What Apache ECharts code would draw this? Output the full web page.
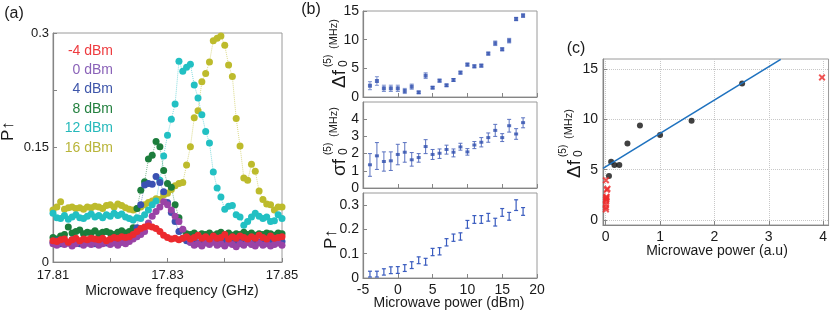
<!DOCTYPE html>
<html><head><meta charset="utf-8">
<script src="https://cdn.jsdelivr.net/npm/echarts@6/dist/echarts.min.js"></script>
<style>html,body{margin:0;padding:0;background:#fff}#c{width:830px;height:312px}</style>
</head><body><div id="c"></div>
<script>
// ---------- Panel (a): P-up vs microwave frequency ----------
const FREQ_START = 17.81, FREQ_END = 17.85, N_FREQ = 61;
const freq = Array.from({length: N_FREQ}, (_, i) => +(FREQ_START + i * (FREQ_END - FREQ_START) / (N_FREQ - 1)).toFixed(5));
const powerLabels = ['-4 dBm', '0 dBm', '4 dBm', '8 dBm', '12 dBm', '16 dBm'];
const pRed = [0.028,0.027,0.029,0.030,0.026,0.029,0.031,0.028,0.030,0.029,
  0.031,0.030,0.029,0.031,0.028,0.030,0.032,0.031,0.033,0.032,
  0.033,0.036,0.040,0.044,0.046,0.047,0.046,0.044,0.040,0.035,
  0.032,0.030,0.031,0.029,0.031,0.033,0.030,0.032,0.035,0.031,
  0.033,0.030,0.034,0.031,0.032,0.036,0.030,0.033,0.031,0.034,
  0.032,0.030,0.033,0.031,0.035,0.032,0.030,0.034,0.031,0.032,0.033];
const pPurple = [0.024,0.022,0.026,0.023,0.025,0.021,0.024,0.027,0.022,0.025,
  0.023,0.026,0.022,0.024,0.027,0.023,0.025,0.022,0.026,0.024,
  0.027,0.030,0.033,0.036,0.040,0.051,0.060,0.066,0.072,0.079,
  0.075,0.068,0.060,0.053,0.043,0.032,0.026,0.022,0.024,0.021,
  0.025,0.023,0.026,0.022,0.024,0.021,0.025,0.023,0.020,0.024,
  0.022,0.026,0.023,0.021,0.025,0.022,0.024,0.021,0.023,0.025,0.022];
const pBlue = [0.026,0.028,0.024,0.027,0.025,0.029,0.026,0.024,0.028,0.025,
  0.027,0.024,0.028,0.026,0.025,0.029,0.027,0.024,0.026,0.028,
  0.030,0.034,0.045,0.075,0.101,0.103,0.102,0.112,0.104,0.092,
  0.078,0.065,0.053,0.040,0.031,0.028,0.026,0.029,0.025,0.027,
  0.030,0.026,0.028,0.025,0.027,0.029,0.026,0.028,0.025,0.027,
  0.030,0.026,0.024,0.028,0.026,0.025,0.029,0.027,0.024,0.026,0.027];
const pGreen = [0.032,0.030,0.034,0.036,0.046,0.038,0.040,0.042,0.037,0.039,
  0.038,0.041,0.037,0.039,0.040,0.038,0.036,0.039,0.041,0.038,
  0.040,0.045,0.070,0.094,0.105,0.135,0.140,0.158,0.151,0.120,
  0.103,0.098,0.075,0.058,0.042,0.037,0.036,0.038,0.035,0.037,
  0.036,0.038,0.035,0.037,0.039,0.036,0.038,0.035,0.037,0.036,
  0.039,0.036,0.038,0.035,0.037,0.036,0.038,0.037,0.035,0.038,0.037];
const pCyan = [0.064,0.058,0.057,0.061,0.056,0.059,0.062,0.058,0.057,0.060,
  0.063,0.059,0.061,0.058,0.062,0.060,0.064,0.061,0.063,0.059,
  0.057,0.055,0.058,0.057,0.062,0.068,0.075,0.080,0.107,0.139,
  0.166,0.187,0.207,0.263,0.250,0.255,0.259,0.232,0.215,0.193,
  0.171,0.156,0.118,0.097,0.085,0.069,0.073,0.074,0.062,0.059,
  0.048,0.053,0.059,0.064,0.060,0.057,0.059,0.053,0.054,0.062,0.057];
const pYellow = [0.068,0.072,0.079,0.069,0.071,0.072,0.070,0.071,0.069,0.072,
  0.071,0.073,0.072,0.070,0.074,0.075,0.072,0.076,0.074,0.071,
  0.069,0.068,0.070,0.072,0.075,0.078,0.080,0.083,0.082,0.088,
  0.090,0.095,0.100,0.103,0.104,0.127,0.151,0.189,0.198,0.236,
  0.247,0.262,0.290,0.293,0.296,0.284,0.258,0.243,0.188,0.152,
  0.110,0.107,0.128,0.119,0.093,0.082,0.076,0.075,0.068,0.072,0.072];

// ---------- Panel (b): vs microwave power (dBm) ----------
const dbm = [-4,-3,-2,-1,0,1,2,3,4,5,6,7,8,9,10,11,12,13,14,15,16,17,18];
const dfShift = [1.97,2.79,1.51,1.51,1.51,1.05,1.80,0.81,3.72,1.63,2.85,2.04,2.97,4.25,5.65,5.35,5.47,7.57,9.37,8.32,9.83,13.6,14.2];
const dfShiftErr = [0.7,0.75,0.55,0.55,0.55,0.45,0.45,0.2,0.5,0.2,0.25,0.2,0.25,0.25,0.25,0.25,0.25,0.25,0.4,0.25,0.4,0.3,0.3];
const sigma = [1.35,1.87,1.54,1.58,1.95,2.08,1.64,1.77,2.41,1.95,2.02,2.24,2.08,2.39,2.10,2.50,2.66,2.93,3.35,2.93,3.62,3.14,3.80];
const sigmaLo = [0.68,1.08,0.98,1.02,1.35,1.50,1.27,1.50,2.00,1.66,1.72,1.97,1.81,2.20,1.91,2.29,2.39,2.66,3.00,2.70,3.25,2.83,3.50];
const sigmaHi = [2.00,2.64,2.10,2.10,2.54,2.64,2.06,2.00,2.81,2.24,2.27,2.49,2.27,2.60,2.29,2.70,2.93,3.20,3.70,3.16,3.99,3.45,4.08];
const pUp = [0.016,0.016,0.025,0.032,0.033,0.041,0.053,0.073,0.067,0.107,0.110,0.147,0.166,0.171,0.221,0.241,0.241,0.250,0.230,0.270,0.254,0.300,0.274];
const pUpErr = [0.012,0.012,0.013,0.014,0.014,0.014,0.014,0.014,0.014,0.015,0.015,0.015,0.015,0.015,0.016,0.016,0.016,0.016,0.016,0.016,0.016,0.022,0.016];

// ---------- Panel (c): shift vs microwave power (a.u.) ----------
const powerAU = [0.06,0.10,0.16,0.25,0.40,0.63,1.00,1.58,2.51];
const dfAU = [4.37,5.79,5.46,5.46,7.60,9.40,8.44,9.86,13.57];
const excludedAU = [0.003,0.005,0.004,0.008,0.006,0.010,0.013,0.016,0.020,0.032,0.004,3.98];
const excludedDf = [1.05,1.25,1.55,1.85,2.05,2.25,2.10,2.30,3.00,3.10,3.95,14.17];
const fitAU = [-0.05, 3.22];
const fitDf = [5.13, 15.96];

const FONT = '"Liberation Sans", Arial, sans-serif';
const AX = '#858585', TXT = '#1a1a1a';
const colors = ['#ec2a2e', '#9a43a6', '#3a51b2', '#1c7d3c', '#22c0c3', '#bdbb2c'];
const legendColors = ['#ee3b3f', '#8a62b8', '#3e56aa', '#23803f', '#26b9bb', '#b9b53a'];
const seriesA = [pRed, pPurple, pBlue, pGreen, pCyan, pYellow];

function baseAxis(extra) {
  return Object.assign({
    type: 'value',
    axisLine: {show: true, onZero: false, lineStyle: {color: AX, width: 1.2}},
    axisTick: {show: true, inside: true, length: 4, lineStyle: {color: AX}},
    axisLabel: {color: TXT, fontSize: 14, fontFamily: FONT},
    splitLine: {show: false}
  }, extra);
}

function errRender(capHalf, color, width) {
  return function (params, api) {
    const x = api.value(0), lo = api.value(1), hi = api.value(2);
    const a = api.coord([x, lo]), b = api.coord([x, hi]);
    const st = {stroke: color, lineWidth: width};
    return {type: 'group', children: [
      {type: 'line', shape: {x1: a[0], y1: a[1], x2: b[0], y2: b[1]}, style: st},
      {type: 'line', shape: {x1: a[0] - capHalf, y1: a[1], x2: a[0] + capHalf, y2: a[1]}, style: st},
      {type: 'line', shape: {x1: b[0] - capHalf, y1: b[1], x2: b[0] + capHalf, y2: b[1]}, style: st}
    ]};
  };
}

const series = [];
for (let k = seriesA.length - 1; k >= 0; k--) {
  series.push({
    type: 'line', xAxisIndex: 0, yAxisIndex: 0, name: powerLabels[k],
    data: freq.map((f, i) => [f, seriesA[k][i]]),
    symbol: 'circle', symbolSize: 7, showSymbol: true,
    itemStyle: {color: colors[k], borderWidth: 0},
    lineStyle: {color: colors[k], width: 1, type: 'dotted', opacity: 0.55},
    clip: false, silent: true
  });
}
// (b) top
series.push({type: 'custom', xAxisIndex: 1, yAxisIndex: 1, renderItem: errRender(2, '#7d92cf', 1),
  encode: {x: 0, y: [1, 2]}, data: dbm.map((d, i) => [d, dfShift[i] - dfShiftErr[i], dfShift[i] + dfShiftErr[i]])});
series.push({type: 'scatter', xAxisIndex: 1, yAxisIndex: 1, symbol: 'rect', symbolSize: 4,
  itemStyle: {color: '#2f4fae'}, data: dbm.map((d, i) => [d, dfShift[i]])});
// (b) middle
series.push({type: 'custom', xAxisIndex: 2, yAxisIndex: 2, renderItem: errRender(2, '#5a72c0', 1),
  encode: {x: 0, y: [1, 2]}, data: dbm.map((d, i) => [d, sigmaLo[i], sigmaHi[i]])});
series.push({type: 'scatter', xAxisIndex: 2, yAxisIndex: 2, symbol: 'rect', symbolSize: [4, 3],
  itemStyle: {color: '#2f4fae'}, data: dbm.map((d, i) => [d, sigma[i]])});
// (b) bottom
series.push({type: 'custom', xAxisIndex: 3, yAxisIndex: 3, renderItem: errRender(2, '#3a5cbf', 1.2),
  encode: {x: 0, y: [1, 2]}, data: dbm.map((d, i) => [d, pUp[i] - pUpErr[i], pUp[i] + pUpErr[i]])});
// (c)
series.push({type: 'line', xAxisIndex: 4, yAxisIndex: 4, data: fitAU.map((x, i) => [x, fitDf[i]]),
  showSymbol: false, lineStyle: {color: '#1f72bf', width: 1.6}, clip: true});
series.push({type: 'scatter', xAxisIndex: 4, yAxisIndex: 4, symbolSize: 6, itemStyle: {color: '#111'},
  data: powerAU.map((x, i) => [x, dfAU[i]])});
series.push({type: 'scatter', xAxisIndex: 4, yAxisIndex: 4, symbolSize: 7,
  symbol: 'path://M0,2L2,0L5,3L8,0L10,2L7,5L10,8L8,10L5,7L2,10L0,8L3,5Z',
  itemStyle: {color: '#ee2a2a'}, data: excludedAU.map((x, i) => [x, excludedDf[i]])});

function txt(t, x, y, size, opts) {
  return Object.assign({type: 'text', x: x, y: y, silent: true,
    style: Object.assign({text: t, fill: TXT, font: size + 'px ' + FONT, textAlign: 'center', textVerticalAlign: 'middle'}, opts || {})});
}
function rotLabel(x, y, parts) {
  return {type: 'group', x: x, y: y, rotation: Math.PI / 2, silent: true,
    children: parts.map(p => ({type: 'text', x: p[1], y: p[2],
      style: {text: p[0], fill: TXT, font: p[3] + 'px ' + FONT, textAlign: 'left', textVerticalAlign: 'bottom'}}))};
}

const graphic = [
  txt('(a)', 14, 14, 16),
  txt('(b)', 311, 10, 16),
  txt('(c)', 576, 49, 16),
  txt('Microwave frequency (GHz)', 172, 291, 14),
  txt('Microwave power (dBm)', 449, 303, 14),
  txt('Microwave power (a.u)', 717, 251, 14),
  rotLabel(17, 141, [['P↑', 0, 0, 17]]),
  rotLabel(340, 249, [['P↑', 0, 0, 17]]),
  rotLabel(349, 88, [['Δf', 0, 0, 19], ['0', 21, 1, 12], ['(5)', 21, -16, 10], ['(MHz)', 39, -10, 11]]),
  rotLabel(349, 176, [['σf', 0, 0, 19], ['0', 21, 1, 12], ['(5)', 21, -16, 10], ['(MHz)', 39, -10, 11]]),
  rotLabel(584, 178, [['Δf', 0, 0, 19], ['0', 21, 1, 12], ['(5)', 21, -16, 10], ['(MHz)', 39, -10, 11]])
].concat(powerLabels.map((t, k) => txt(t, 113, [51, 70, 89.5, 109, 128.5, 148.5][k], 14,
  {fill: legendColors[k], textAlign: 'right'})));

const option = {
  animation: false,
  backgroundColor: '#fff',
  textStyle: {fontFamily: FONT},
  grid: [
    {left: 53, top: 33, width: 229, height: 229, show: true, borderColor: '#9a9a9a', borderWidth: 1},
    {left: 363, top: 11, width: 174, height: 86, show: true, borderColor: '#9a9a9a', borderWidth: 1},
    {left: 363, top: 102, width: 174, height: 86, show: true, borderColor: '#9a9a9a', borderWidth: 1},
    {left: 363, top: 193, width: 174, height: 85, show: true, borderColor: '#9a9a9a', borderWidth: 1},
    {left: 603, top: 59, width: 226, height: 166, show: true, borderColor: '#9a9a9a', borderWidth: 1}
  ],
  xAxis: [
    baseAxis({gridIndex: 0, min: FREQ_START, max: FREQ_END, interval: 0.01,
      axisLabel: {color: TXT, fontSize: 13, fontFamily: FONT, margin: 7,
        formatter: v => (Math.round((v - FREQ_START) / 0.01) % 2 === 0 ? v.toFixed(2) : '')}}),
    baseAxis({gridIndex: 1, min: -5, max: 20, interval: 5, axisLabel: {show: false}}),
    baseAxis({gridIndex: 2, min: -5, max: 20, interval: 5, axisLabel: {show: false}}),
    baseAxis({gridIndex: 3, min: -5, max: 20, interval: 5,
      axisLabel: {color: TXT, fontSize: 14, fontFamily: FONT, margin: 5}}),
    baseAxis({gridIndex: 4, min: -0.05, max: 4.1,
      axisTick: {show: true, inside: true, length: 4, lineStyle: {color: AX}, customValues: [0, 1, 2, 3, 4]},
      axisLabel: {color: TXT, fontSize: 14, fontFamily: FONT, margin: 5, customValues: [0, 1, 2, 3, 4]},
      splitLine: {show: true, lineStyle: {color: '#c8c8c8', type: 'dotted', width: 1}}})
  ],
  yAxis: [
    baseAxis({gridIndex: 0, min: 0, max: 0.3, interval: 0.075,
      axisLabel: {color: TXT, fontSize: 13, fontFamily: FONT, margin: 4,
        formatter: v => { const k = Math.round(v / 0.075); return k % 2 === 0 ? (k === 0 ? '0' : String(+(v.toFixed(2)))) : ''; }}}),
    baseAxis({gridIndex: 1, min: 0, max: 15, interval: 5, axisLabel: {color: TXT, fontSize: 14, fontFamily: FONT, margin: 4}}),
    baseAxis({gridIndex: 2, min: 0, max: 5, interval: 1, axisLabel: {color: TXT, fontSize: 14, fontFamily: FONT, margin: 4, showMaxLabel: false}}),
    baseAxis({gridIndex: 3, min: 0, max: 0.35, interval: 0.1, axisLabel: {color: TXT, fontSize: 14, fontFamily: FONT, margin: 4, showMaxLabel: false,
      formatter: v => (v === 0 ? '0' : String(+(v.toFixed(2))))}}),
    baseAxis({gridIndex: 4, min: -0.5, max: 16,
      axisTick: {show: true, inside: true, length: 4, lineStyle: {color: AX}, customValues: [0, 5, 10, 15]},
      axisLabel: {color: TXT, fontSize: 14, fontFamily: FONT, margin: 5, customValues: [0, 5, 10, 15]},
      splitLine: {show: true, lineStyle: {color: '#c8c8c8', type: 'dotted', width: 1}}})
  ],
  series: series,
  graphic: graphic
};
const chart = echarts.init(document.getElementById('c'), null, {renderer: 'canvas'});
chart.setOption(option);
</script></body></html>
